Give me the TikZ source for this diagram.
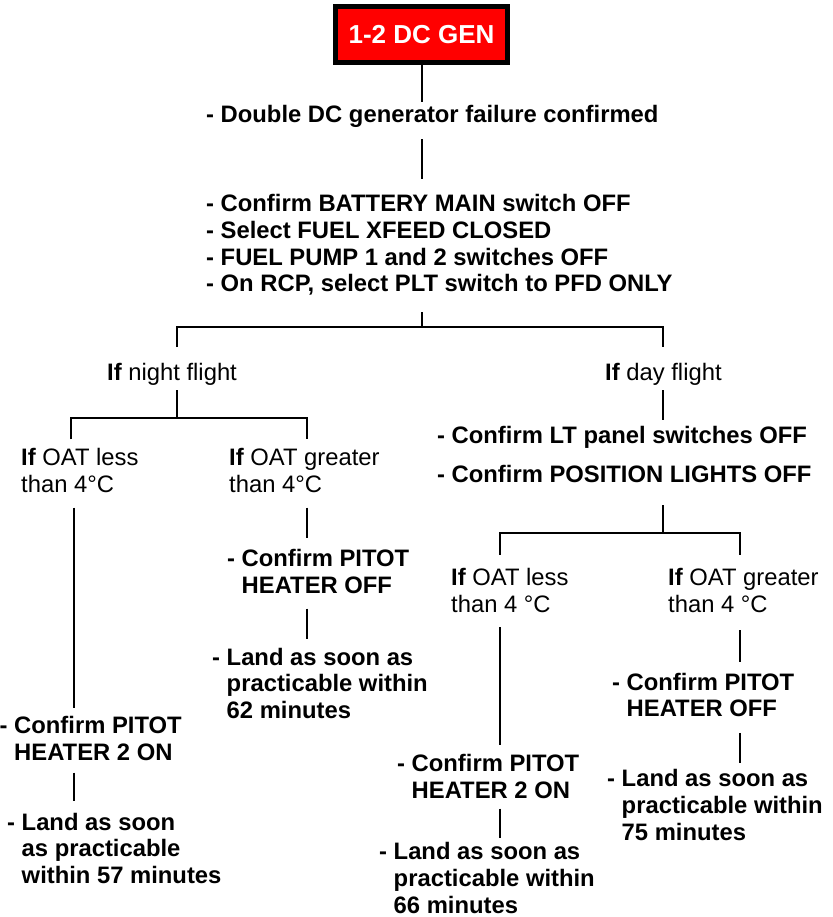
\documentclass[tikz,border=0pt]{standalone}
\usepackage{fontspec}
\setmainfont{Liberation Sans}
\usetikzlibrary{calc}
\tikzset{
  txt/.style={inner sep=0pt, anchor=base west, align=left,
    font=\fontsize{23.8}{26.7}\selectfont,
    execute at begin node=\strut, execute at end node=\strut},
  btxt/.style={txt, font=\fontsize{23.8}{26.7}\selectfont\bfseries},
  conn/.style={line width=2pt, line cap=butt},
  genbox/.style={draw=black, line width=5pt, fill=red, text=white,
    minimum width=172pt, minimum height=56pt, inner sep=0pt,
    font=\fontsize{26}{30}\selectfont\bfseries},
}
\newcommand{\hi}{\hphantom{- }}
\begin{document}
\begin{tikzpicture}[x=1pt,y=1pt]
\useasboundingbox (0,0) rectangle (832,-917);
% x references and buses
\coordinate (xN) at (177,0);
\coordinate (xD) at (663,0);
\coordinate (xL1a) at (71,0);
\coordinate (xL1) at (74,0);
\coordinate (xL2) at (307,0);
\coordinate (xR1) at (500,0);
\coordinate (xR2) at (740,0);
\coordinate (busA) at (0,-327);
\coordinate (busB) at (0,-418);
\coordinate (busC) at (0,-533);

% nodes (multi-line nodes are placed by the baseline of their last line)
\node[genbox] (gen) at (421.5,-34.5) {1-2 DC GEN};
\node[btxt] (dbl) at (206,-123) {- Double DC generator failure confirmed};
\node[btxt] (blk) at (206,-291.8) {- Confirm BATTERY MAIN switch OFF\\- Select FUEL XFEED CLOSED\\- FUEL PUMP 1 and 2 switches OFF\\- On RCP, select PLT switch to PFD ONLY};
\node[txt] (night) at (107,-380) {\textbf{If} night flight};
\node[txt] (day) at (605,-380) {\textbf{If} day flight};
\node[btxt] (lt) at (437,-443) {- Confirm LT panel switches OFF};
\node[btxt] (pos) at (437,-482) {- Confirm POSITION LIGHTS OFF};

\node[txt] (oatL1) at (21,-492.5) {\textbf{If} OAT less\\than 4°C};
\node[txt] (oatL2) at (229,-492.5) {\textbf{If} OAT greater\\than 4°C};
\node[btxt] (pitL1) at (-0.5,-760.5) {- Confirm PITOT\\\hi HEATER 2 ON};
\node[btxt] (landL1) at (7,-883.4) {- Land as soon\\\hi as practicable\\\hi within 57 minutes};
\node[btxt] (pitL2) at (227,-593.5) {- Confirm PITOT\\\hi HEATER OFF};
\node[btxt] (landL2) at (212,-718.4) {- Land as soon as\\\hi practicable within\\\hi 62 minutes};

\node[txt] (oatR1) at (451,-612) {\textbf{If} OAT less\\than 4 °C};
\node[txt] (oatR2) at (668,-612) {\textbf{If} OAT greater\\than 4 °C};
\node[btxt] (pitR1) at (397,-798.5) {- Confirm PITOT\\\hi HEATER 2 ON};
\node[btxt] (landR1) at (379,-913) {- Land as soon as\\\hi practicable within\\\hi 66 minutes};
\node[btxt] (pitR2) at (612,-716.7) {- Confirm PITOT\\\hi HEATER OFF};
\node[btxt] (landR2) at (607,-840) {- Land as soon as\\\hi practicable within\\\hi 75 minutes};

% connectors: trunk
\draw[conn] (gen.south) -- ($(gen.south |- dbl.north)+(0,2)$);
\draw[conn] ($(gen.south |- dbl.south)+(0,-8)$) -- ($(gen.south |- blk.north)+(0,15)$);
\draw[conn] ($(gen.south |- blk.south)+(0,-12)$) -- (gen.south |- busA);
\draw[conn] ($(xN |- night.north)+(0,14)$) |- (xD |- busA) -- ($(xD |- day.north)+(0,14)$);

% night branch
\draw[conn] ($(xN |- night.south)+(0,-2)$) -- (xN |- busB);
\draw[conn] ($(xL1a |- oatL1.north)+(0,9)$) |- (xL2 |- busB) -- ($(xL2 |- oatL2.north)+(0,9)$);
\draw[conn] ($(xL1 |- oatL1.south)+(0,-7)$) -- ($(xL1 |- pitL1.north)+(0,8)$);
\draw[conn] ($(xL1 |- pitL1.south)+(0,-4)$) -- ($(xL1 |- landL1.north)+(0,12)$);
\draw[conn] ($(xL2 |- oatL2.south)+(0,-7)$) -- ($(xL2 |- pitL2.north)+(0,11)$);
\draw[conn] ($(xL2 |- pitL2.south)+(0,-7)$) -- ($(xL2 |- landL2.north)+(0,9)$);

% day branch
\draw[conn] ($(xD |- day.south)+(0,-2)$) -- ($(xD |- lt.north)+(0,4)$);
\draw[conn] ($(xD |- pos.south)+(0,-15)$) -- (xD |- busC);
\draw[conn] ($(xR1 |- oatR1.north)+(0,13)$) |- (xR2 |- busC) -- ($(xR2 |- oatR2.north)+(0,13)$);
\draw[conn] ($(xR1 |- oatR1.south)+(0,-7)$) -- ($(xR1 |- pitR1.north)+(0,9)$);
\draw[conn] ($(xR1 |- pitR1.south)+(0,-2)$) -- ($(xR1 |- landR1.north)+(0,4)$);
\draw[conn] ($(xR2 |- oatR2.south)+(0,-10)$) -- ($(xR2 |- pitR2.north)+(0,11)$);
\draw[conn] ($(xR2 |- pitR2.south)+(0,-8)$) -- ($(xR2 |- landR2.north)+(0,6)$);
\end{tikzpicture}
\end{document}
